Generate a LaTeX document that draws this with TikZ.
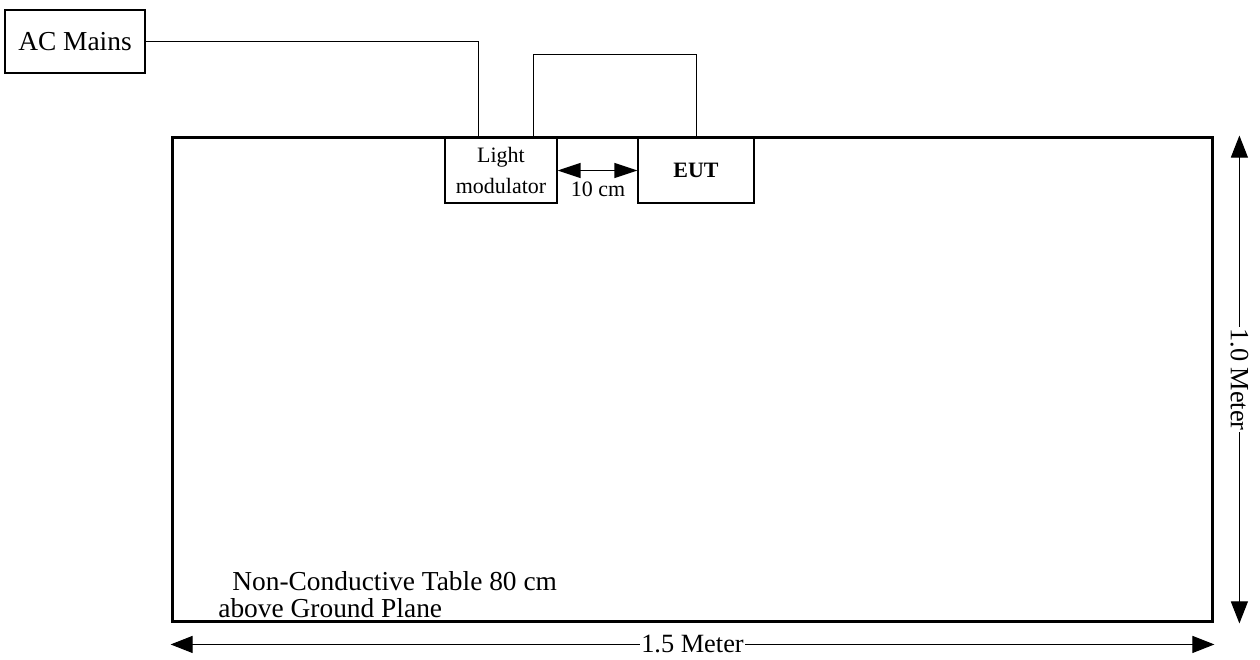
\documentclass[tikz,border=0pt]{standalone}
\usepackage{fontspec}
\setmainfont{Liberation Serif}
\usetikzlibrary{arrows.meta}

\begin{document}
\begin{tikzpicture}[
    x=0.02cm, y=-0.02cm,
    block/.style={draw, line width=0.8pt, inner sep=0pt, align=center, font=\fontsize{12.5}{17.6}\selectfont},
    wire/.style={draw, line width=0.5pt},
    dim/.style={draw, line width=0.6pt, {Triangle[length=0.44cm,width=0.34cm]}-{Triangle[length=0.44cm,width=0.34cm]}},
    gap/.style={draw, line width=0.8pt, {Triangle[length=0.46cm,width=0.3cm]}-{Triangle[length=0.46cm,width=0.3cm]}},
    dimlabel/.style={fill=white, inner sep=0.5pt, font=\fontsize{15}{17}\selectfont},
    note/.style={inner sep=0pt, anchor=base west, font=\fontsize{15.6}{18}\selectfont}
]
\useasboundingbox (0,0) rectangle (1260,659);
\node[draw, line width=1.7pt, minimum width=20.82cm, minimum height=9.7cm] (table) at (692.5,379.5) {};
\node[block, minimum width=2.8cm, minimum height=1.26cm, font=\fontsize{15.6}{18}\selectfont] (acmains) at (75,41.5) {AC Mains};
\node[block, minimum width=2.24cm, minimum height=1.3cm] (lightmod) at (501,170.5) {Light\\modulator};
\node[block, minimum width=2.32cm, minimum height=1.3cm, font=\fontsize{12.5}{15}\selectfont\bfseries] (eut) at (696,170.5) {EUT};
\node[inner sep=0pt, font=\fontsize{12.5}{15}\selectfont] (gaplabel) at (598,189) {10 cm};
\node[note] (note1) at (232,590) {Non-Conductive Table 80 cm};
\node[note] (note2) at (218,617) {above Ground Plane};

\draw[wire] (acmains.east) -| ([xshift=-0.46cm]lightmod.north);
\draw[wire] ([xshift=0.64cm]lightmod.north) -- ++(0,-83) -| (eut.north);
\draw[gap] (lightmod.east) -- (eut.west);
\draw[dim] ([xshift=0.5cm]table.north east) -- node[dimlabel, rotate=-90] (vlabel) {1.0 Meter} ([xshift=0.5cm]table.south east);
\draw[dim] ([yshift=-0.42cm]table.south west) -- node[dimlabel] (hlabel) {1.5 Meter} ([yshift=-0.42cm]table.south east);
\end{tikzpicture}
\end{document}
